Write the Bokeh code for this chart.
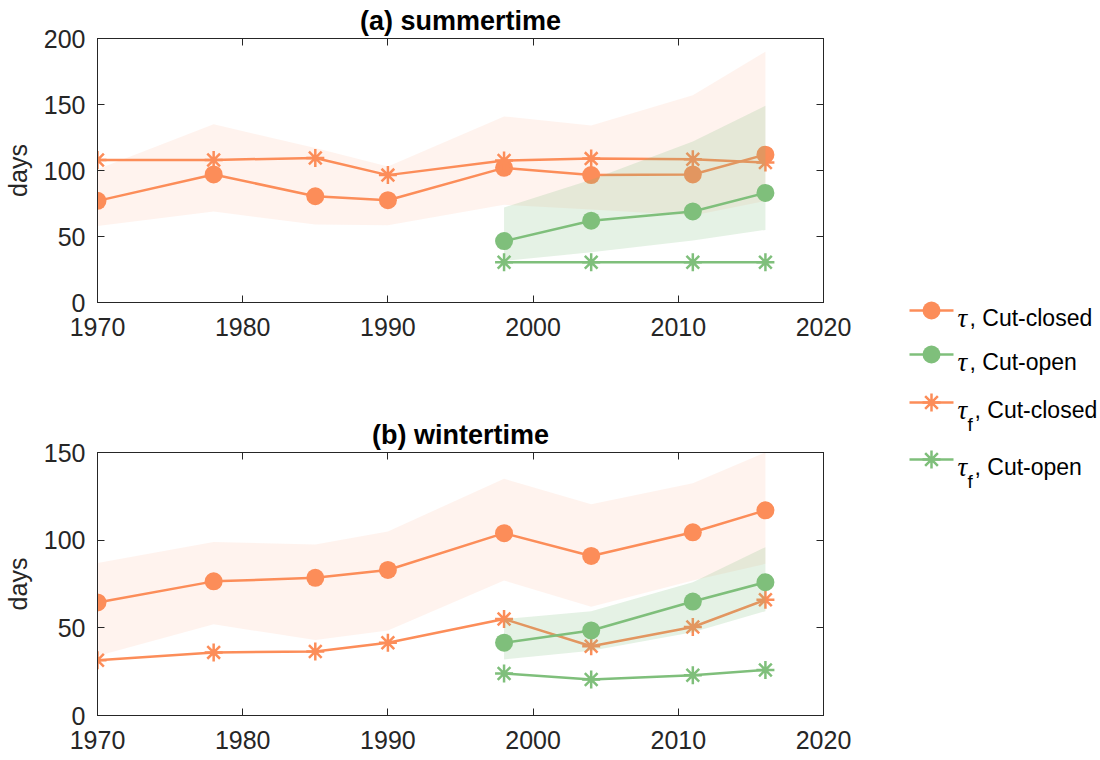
from bokeh.plotting import figure
from bokeh.layouts import row, column
from bokeh.models import Range1d, LinearAxis, FixedTicker
from bokeh.embed import file_html
from bokeh.resources import INLINE
from bokeh.core.properties import value

# ---------------- data ----------------
years_closed = [1970, 1978, 1985, 1990, 1998, 2004, 2011, 2016]
years_open = [1998, 2004, 2011, 2016]

# (a) summertime
sum_tau_closed = [77, 97, 80.5, 77.5, 102, 96.5, 97, 112]
sum_tauf_closed = [108, 108, 109.5, 96.5, 107.5, 109, 108.5, 106]
sum_tau_open = [46.5, 62, 69, 83]
sum_tauf_open = [30.5, 30.5, 30.5, 30.5]
sum_closed_lo = [58, 69, 59, 58.5, 74, 70.5, 66, 77]
sum_closed_hi = [101, 135, 117, 103, 141, 134, 157, 190]
sum_open_lo = [31.5, 38, 47, 55]
sum_open_hi = [72, 93, 122, 149]

# (b) wintertime
win_tau_closed = [64.5, 76.5, 78.5, 83, 104, 91, 104.5, 117]
win_tauf_closed = [31.5, 36, 36.5, 41.5, 55, 39.5, 50.5, 66]
win_tau_open = [41.5, 48.5, 65, 76]
win_tauf_open = [24, 20.5, 23, 26]
win_closed_lo = [34, 52, 43, 48.5, 77, 62, 77, 86.5]
win_closed_hi = [87, 99, 97.5, 105, 135, 120.5, 132.5, 150]
win_open_lo = [32, 37, 47.5, 59.5]
win_open_hi = [55, 59.5, 76, 96]

x_ticks = [1970, 1980, 1990, 2000, 2010, 2020]
sum_y_ticks = [0, 50, 100, 150, 200]
win_y_ticks = [0, 50, 100, 150]

titles = ["(a) summertime", "(b) wintertime"]
y_label = "days"

legend_symbol = "\u03c4"
legend_subscripts = ["", "", "f", "f"]
legend_texts = [", Cut-closed", ", Cut-open", ", Cut-closed", ", Cut-open"]
legend_series = ["closed", "open", "closed", "open"]
legend_markers = ["circle", "circle", "asterisk", "asterisk"]

# ---------------- style ----------------
ORANGE = "#FC8D59"
GREEN = "#7FBF7B"
COLORS = {"closed": ORANGE, "open": GREEN}
AX = "#262626"
FONT = "Liberation Sans"
LW = 2.5
CIRCLE_SIZE = 18
STAR_SIZE = 18
LEFT_W = 866


def style_axis(ax, ticks, label_size="25px", standoff=8):
    ax.ticker = FixedTicker(ticks=ticks)
    ax.major_tick_in = 7
    ax.major_tick_out = 0
    ax.minor_tick_in = 0
    ax.minor_tick_out = 0
    ax.axis_line_color = AX
    ax.major_tick_line_color = AX
    ax.major_label_text_font = FONT
    ax.major_label_text_font_size = label_size
    ax.major_label_text_color = AX
    ax.major_label_standoff = standoff


def panel(title, ymax, yticks, d, height, top, bottom):
    p = figure(width=LEFT_W, height=height,
               x_range=Range1d(1970, 2020), y_range=Range1d(0, ymax),
               output_backend="svg", toolbar_location=None, title=title,
               min_border_left=95, min_border_right=LEFT_W - 823,
               min_border_top=top, min_border_bottom=bottom)
    p.grid.visible = False
    p.outline_line_color = AX
    p.outline_line_width = 1
    p.title.align = "center"
    p.title.text_font = FONT
    p.title.text_font_size = "27px"
    p.title.text_font_style = "bold"
    p.title.text_color = "black"
    p.title.standoff = 5

    # Cut-closed (orange) first, then Cut-open (green) on top
    p.varea(x=years_closed, y1=d["closed_lo"], y2=d["closed_hi"],
            fill_color=ORANGE, fill_alpha=0.1)
    p.line(years_closed, d["tau_closed"], line_color=ORANGE, line_width=LW)
    p.scatter(years_closed, d["tau_closed"], marker="circle", size=CIRCLE_SIZE,
              fill_color=ORANGE, line_color=None)
    p.line(years_closed, d["tauf_closed"], line_color=ORANGE, line_width=LW)
    p.scatter(years_closed, d["tauf_closed"], marker="asterisk", size=STAR_SIZE,
              line_color=ORANGE, line_width=LW)

    p.varea(x=years_open, y1=d["open_lo"], y2=d["open_hi"],
            fill_color=GREEN, fill_alpha=0.2)
    p.line(years_open, d["tau_open"], line_color=GREEN, line_width=LW)
    p.scatter(years_open, d["tau_open"], marker="circle", size=CIRCLE_SIZE,
              fill_color=GREEN, line_color=None)
    p.line(years_open, d["tauf_open"], line_color=GREEN, line_width=LW)
    p.scatter(years_open, d["tauf_open"], marker="asterisk", size=STAR_SIZE,
              line_color=GREEN, line_width=LW)

    style_axis(p.xaxis[0], x_ticks, standoff=15)
    style_axis(p.yaxis[0], yticks, standoff=12)
    p.yaxis[0].axis_label = y_label
    p.yaxis[0].axis_label_text_font = FONT
    p.yaxis[0].axis_label_text_font_size = "25px"
    p.yaxis[0].axis_label_text_font_style = "normal"
    p.yaxis[0].axis_label_text_color = AX
    p.yaxis[0].axis_label_standoff = 9

    top_ax = LinearAxis()
    style_axis(top_ax, x_ticks, label_size="0px", standoff=0)
    top_ax.major_label_text_alpha = 0
    p.add_layout(top_ax, "above")
    right_ax = LinearAxis()
    style_axis(right_ax, yticks, label_size="0px", standoff=0)
    right_ax.major_label_text_alpha = 0
    p.add_layout(right_ax, "right")
    return p


p1 = panel(titles[0], 200, sum_y_ticks,
           dict(tau_closed=sum_tau_closed, tauf_closed=sum_tauf_closed,
                tau_open=sum_tau_open, tauf_open=sum_tauf_open,
                closed_lo=sum_closed_lo, closed_hi=sum_closed_hi,
                open_lo=sum_open_lo, open_hi=sum_open_hi),
           height=372, top=38, bottom=70)
p2 = panel(titles[1], 150, win_y_ticks,
           dict(tau_closed=win_tau_closed, tauf_closed=win_tauf_closed,
                tau_open=win_tau_open, tauf_open=win_tauf_open,
                closed_lo=win_closed_lo, closed_hi=win_closed_hi,
                open_lo=win_open_lo, open_hi=win_open_hi),
           height=386, top=80, bottom=43)

# ---------------- legend (screen-like pixel coordinates) ----------------
LG_W, LG_H = 232, 758
lg = figure(width=LG_W, height=LG_H, x_range=Range1d(0, LG_W), y_range=Range1d(LG_H, 0),
            output_backend="svg", toolbar_location=None, min_border=0,
            x_axis_location=None, y_axis_location=None)
lg.grid.visible = False
lg.outline_line_color = None

row_baselines = [317, 361, 409, 466]
for i, base in enumerate(row_baselines):
    col = COLORS[legend_series[i]]
    yl = base - 7
    lg.line([43, 87], [yl, yl], line_color=col, line_width=LW)
    if legend_markers[i] == "circle":
        lg.scatter([65], [yl], marker="circle", size=CIRCLE_SIZE, fill_color=col, line_color=None)
    else:
        lg.scatter([65], [yl], marker="asterisk", size=STAR_SIZE, line_color=col, line_width=LW)
    lg.text(x=[91], y=[base], text=[legend_symbol], text_font=value("Liberation Serif"),
            text_font_style="italic", text_font_size="27px", text_color="black",
            text_baseline="alphabetic", text_align="left")
    if legend_subscripts[i]:
        lg.text(x=[101], y=[base + 15], text=[legend_subscripts[i]], text_font=value(FONT),
                text_font_size="19px", text_color="black",
                text_baseline="alphabetic", text_align="left")
        tx = 108
    else:
        tx = 103
    lg.text(x=[tx], y=[base], text=[legend_texts[i]], text_font=value(FONT),
            text_font_size="23px", text_color="black",
            text_baseline="alphabetic", text_align="left")

layout = row(column(p1, p2), lg)
open("out.html", "w").write(file_html(layout, INLINE, title="tau"))
